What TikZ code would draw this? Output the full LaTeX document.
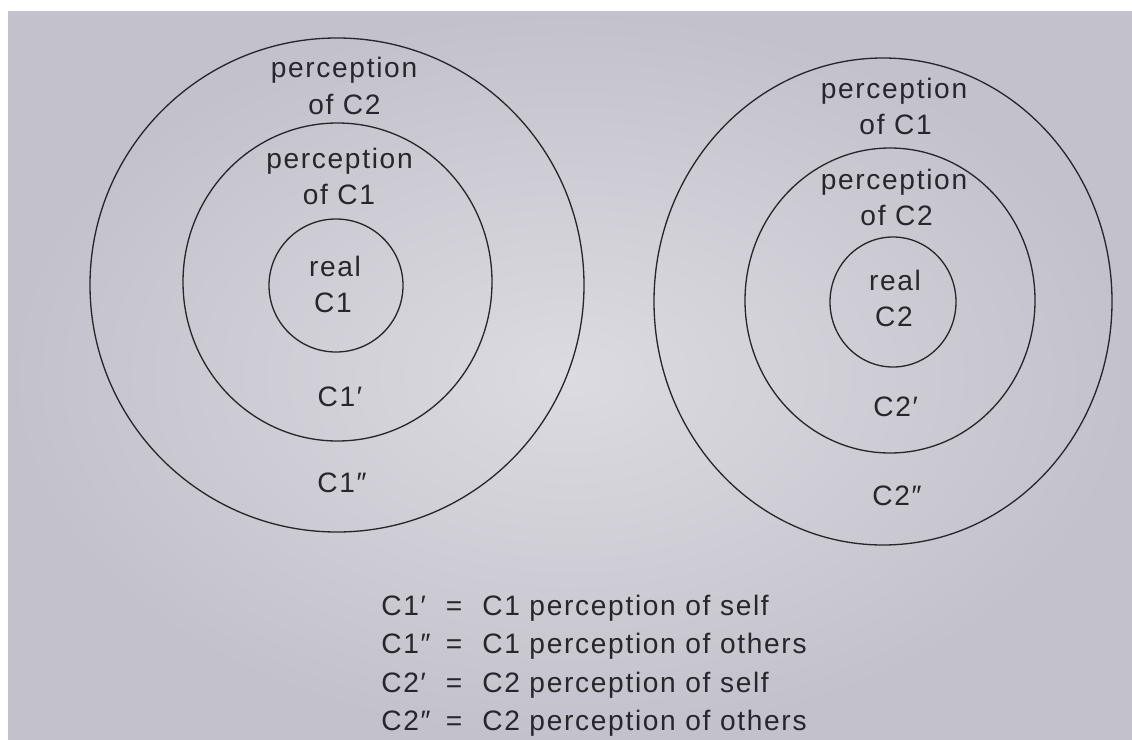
\documentclass[tikz,border=0pt]{standalone}
\usepackage{fontspec}
\newfontfamily\labelfont{Liberation Sans}[LetterSpace=6.0]

\begin{document}
\begin{tikzpicture}[x=0.02cm, y=-0.02cm]
  \definecolor{paperin}{HTML}{DCDBE1}
  \definecolor{paperout}{HTML}{C3C1CB}
  \definecolor{ink}{HTML}{26262C}
  \tikzset{
    ring/.style={draw=ink, line width=0.75pt},
    lbl/.style={font=\labelfont\fontsize{16pt}{20pt}\selectfont, text=ink,
      anchor=base, inner sep=0pt},
  }

  % ---- page: white margin top and left, the photographed paper elsewhere ---
  \useasboundingbox (0,0) rectangle (1132,740);
  \fill[white] (0,0) rectangle (1132,740);
  \shade[inner color=paperin, outer color=paperout] (8,12) rectangle (1132,740);

  % ---- the two sets of rings (photo is a little stretched on the right) ----
  % #1 name, #2 centre x, #3 centre y, #4 x radius, #5 y radius
  \foreach \nm/\cx/\cy/\rx/\ry in {%
    louter/337/285/247/247, lmiddle/337.5/282/154.5/159, linner/336/285.5/67/66.5,
    router/883/301.5/229/243.5, rmiddle/890/300.5/145/152.5, rinner/893/302/63/65%
  }{
    \coordinate (\nm) at (\cx,\cy);
    \draw[ring] (\nm) ellipse [x radius=\rx, y radius=\ry];
  }

  % ---- labels inside the rings, one node per printed line ------------------
  \foreach \nm/\xx/\yy/\txt in {%
    lpa/344/78/perception, lpb/344.5/114/of C2,
    lpc/339.5/168/perception, lpd/339/204/of C1,
    lre/335/276/real, lrf/333/312/C1,
    lself/340/406/C1′, loth/342/492/C1″,
    rpa/894/98/perception, rpb/895.6/134/of C1,
    rpc/894/189/perception, rpd/896.6/225/of C2,
    rre/895/290/real, rrf/894/326/C2,
    rself/895.6/416/C2′, roth/897/505/C2″%
  }{
    \node[lbl] (\nm) at (\xx,\yy) {\txt};
  }

  % ---- key under the figure ------------------------------------------------
  \foreach \nm/\yy/\lhs/\rhs in {%
    ka/615/C1′/C1 perception of self, kb/653/C1″/C1 perception of others,
    kc/692/C2′/C2 perception of self, kd/730/C2″/C2 perception of others%
  }{
    \node[lbl, anchor=base west] (\nm-l) at (381,\yy) {\lhs};
    \node[lbl] (\nm-e) at (454,\yy) {=};
    \node[lbl, anchor=base west] (\nm-r) at (482,\yy) {\rhs};
  }
\end{tikzpicture}
\end{document}
